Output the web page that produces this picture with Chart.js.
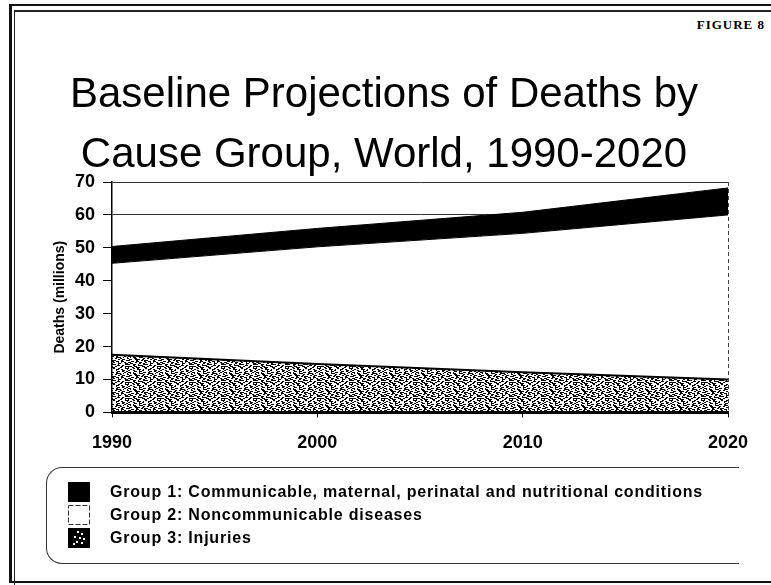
<!DOCTYPE html>
<html>
<head>
<meta charset="utf-8">
<script src="https://cdn.jsdelivr.net/npm/chart.js@4.4.1/dist/chart.umd.min.js"></script>
<style>
html, body { margin: 0; padding: 0; background: #fff; }
#wrap { position: relative; width: 771px; height: 585px; overflow: hidden; font-family: "Liberation Sans", Arial, sans-serif; }
.frameOuter { position: absolute; left: 9px; top: 4px; right: -20px; height: 575px; border-left: 3px solid #111; border-top: 2px solid #111; border-bottom: 2px solid #111; }
.frameInner { position: absolute; left: 14px; top: 10px; right: -20px; bottom: -20px; border-left: 1px solid #222; border-top: 2px solid #222; }
#figLabel { position: absolute; right: 6px; top: 17px; font: bold 13px "Liberation Serif", serif; letter-spacing: 1px; line-height: 16px; }
#chartBox { position: absolute; left: 0; top: 0; width: 771px; height: 585px; }
#legend { position: absolute; left: 46px; top: 467px; width: 692px; height: 95px; border: 1.5px solid #333; border-right: none; border-radius: 16px 0 0 16px; }
.row { position: absolute; left: 21px; height: 22px; display: flex; align-items: center; font: bold 16px "Liberation Sans", Arial, sans-serif; letter-spacing: 0.8px; color: #000; white-space: nowrap; }
.row canvas { width: 22px; height: 20px; margin-right: 20px; }
</style>
</head>
<body>
<div id="wrap">
  <div class="frameOuter"></div>
  <div class="frameInner"></div>
  <div id="figLabel">FIGURE 8</div>
  <div id="chartBox"><canvas id="deaths"></canvas></div>
  <div id="legend"></div>
</div>
<script>
// data (millions of deaths)
const years = ['1990', '2000', '2010', '2020'];
const injuries = [17.5, 14.7, 12.2, 10.0];        // bottom band, speckled
const noncommunicable = [27.8, 35.6, 42.2, 50.0]; // middle band, white
const communicable = [5.1, 5.6, 6.4, 8.2];        // top band, black
const legendLabels = [
    'Group 1: Communicable, maternal, perinatal and nutritional conditions',
    'Group 2: Noncommunicable diseases',
    'Group 3: Injuries'
];
const titleLines = ['Baseline Projections of Deaths by', 'Cause Group, World, 1990-2020'];

// white flecks on black for the speckled band (32x16 tile)
const speckle = [
    [1,0,4,1],[7,0,2,1],[11,0,6,1],[19,0,3,1],[24,0,5,1],
    [0,1,2,1],[4,1,5,1],[13,1,2,1],[16,1,4,2],[23,1,2,1],[27,1,4,1],
    [2,2,3,1],[7,2,4,1],[12,2,2,1],[21,2,5,1],[29,2,3,1],
    [0,3,6,1],[9,3,2,1],[14,3,7,1],[24,3,2,1],[28,3,2,1],
    [3,4,2,2],[6,4,5,1],[12,4,3,1],[18,4,2,1],[22,4,6,1],[30,4,2,1],
    [0,5,2,1],[8,5,3,1],[15,5,5,1],[25,5,2,1],[28,5,3,1],
    [1,6,5,1],[9,6,6,1],[17,6,2,1],[21,6,3,1],[26,6,5,1],
    [0,7,1,1],[4,7,3,1],[12,7,2,1],[16,7,6,1],[24,7,2,1],[29,7,3,1],
    [2,8,6,1],[10,8,3,1],[15,8,1,1],[20,8,5,1],[27,8,3,1],
    [0,9,3,1],[6,9,2,1],[11,9,5,1],[18,9,2,1],[23,9,2,2],[28,9,4,1],
    [3,10,4,1],[9,10,2,1],[14,10,3,1],[19,10,3,1],[26,10,2,1],[30,10,2,1],
    [0,11,2,1],[5,11,6,1],[13,11,2,1],[17,11,5,1],[25,11,4,1],
    [2,12,3,1],[8,12,2,1],[11,12,4,1],[20,12,2,1],[23,12,6,1],
    [0,13,5,1],[7,13,3,1],[15,13,6,1],[24,13,2,1],[28,13,4,1],
    [4,14,2,1],[9,14,5,1],[17,14,2,1],[21,14,4,1],[27,14,2,1],
    [1,15,3,1],[6,15,2,1],[12,15,4,1],[19,15,5,1],[26,15,3,1],[30,15,2,1]
];

function makeTile() {
    const c = document.createElement('canvas');
    c.width = 32; c.height = 16;
    const g = c.getContext('2d');
    g.fillStyle = '#000';
    g.fillRect(0, 0, 32, 16);
    g.fillStyle = '#fff';
    speckle.forEach(s => g.fillRect(s[0], s[1], s[2], s[3]));
    return c;
}

const ctx = document.getElementById('deaths').getContext('2d');
const speckled = ctx.createPattern(makeTile(), 'repeat');

// LEGEND (html, boxed like the original)
const legendBox = document.getElementById('legend');
const swatchKinds = ['black', 'white', 'speckle'];
legendLabels.forEach((text, i) => {
    const row = document.createElement('div');
    row.className = 'row';
    row.style.top = (13 + i * 23) + 'px';
    const sw = document.createElement('canvas');
    sw.width = 22; sw.height = 20;
    const g = sw.getContext('2d');
    if (swatchKinds[i] === 'white') {
        g.fillStyle = '#fff';
        g.fillRect(0, 0, 22, 20);
        g.strokeStyle = '#333';
        g.setLineDash([5, 2]);
        g.strokeRect(0.5, 0.5, 21, 19);
    } else {
        g.fillStyle = '#000';
        g.fillRect(0, 0, 22, 20);
        if (swatchKinds[i] === 'speckle') {
            g.fillStyle = '#fff';
            [[9,3],[13,5],[6,8],[11,9],[15,10],[8,13],[13,14],[5,15]].forEach(p => g.fillRect(p[0], p[1], 2, 2));
        }
    }
    row.appendChild(sw);
    const span = document.createElement('span');
    span.textContent = text;
    row.appendChild(span);
    legendBox.appendChild(row);
});

const tickFont = { family: '"Liberation Sans", Arial, sans-serif', size: 18, weight: 'bold' };

const deathsChart = new Chart(ctx, {
    type: 'line',
    data: {
        labels: years,
        datasets: [{
            label: legendLabels[2],
            data: injuries,
            fill: 'origin',
            backgroundColor: speckled,
            borderColor: '#000',
            borderWidth: 2,
            pointRadius: 0
        }, {
            label: legendLabels[1],
            data: noncommunicable,
            fill: '-1',
            backgroundColor: '#fff',
            borderColor: '#000',
            borderWidth: 1,
            pointRadius: 0
        }, {
            label: legendLabels[0],
            data: communicable,
            fill: '-1',
            backgroundColor: '#000',
            borderColor: '#000',
            borderWidth: 1,
            pointRadius: 0
        }]
    },
    options: {
        responsive: true,
        maintainAspectRatio: false,
        animation: false,
        layout: {
            padding: { left: 40, right: 43, top: 0, bottom: 116 }
        },
        plugins: {
            legend: { display: false },
            tooltip: { enabled: false },
            title: {
                display: true,
                text: titleLines,
                color: '#000',
                font: { family: '"Liberation Sans", Arial, sans-serif', size: 42, weight: 'normal', lineHeight: '60px' },
                padding: { top: 65, bottom: -3 }
            }
        },
        scales: {
            x: {
                grid: {
                    // only the right edge gets a (dashed) line
                    color: c => c.index === years.length - 1 ? '#444' : 'rgba(0,0,0,0)',
                    tickColor: '#000',
                    tickLength: 5,
                    z: 1
                },
                border: { display: true, color: '#000', width: 3, dash: [4, 3], z: 1 },
                ticks: {
                    color: '#000',
                    padding: 15,
                    maxRotation: 0,
                    font: tickFont
                }
            },
            y: {
                stacked: true,
                min: 0,
                max: 70,
                afterFit: function(scale) {
                    scale.width = 72;
                },
                grid: {
                    color: '#333',
                    lineWidth: 1,
                    tickColor: '#000',
                    tickLength: 9
                },
                border: { display: true, color: '#000', width: 1.5, z: 1 },
                ticks: {
                    stepSize: 10,
                    color: '#000',
                    padding: 8,
                    font: tickFont
                },
                title: {
                    display: true,
                    text: 'Deaths (millions)',
                    color: '#000',
                    font: { family: '"Liberation Sans", Arial, sans-serif', size: 14, weight: 'bold' },
                    padding: { top: 12, bottom: 0 }
                }
            }
        }
    }
});
</script>
</body>
</html>
